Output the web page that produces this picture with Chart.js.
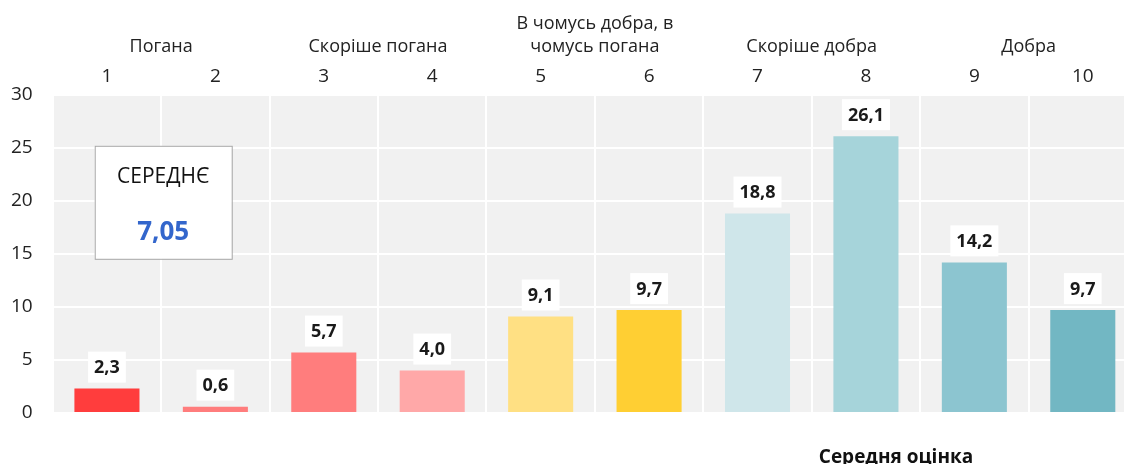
<!DOCTYPE html>
<html>
<head>
<meta charset="utf-8">
<script src="https://cdn.jsdelivr.net/npm/chart.js@4.4.1/dist/chart.umd.min.js"></script>
<style>
html,body{margin:0;padding:0;background:#fff;overflow:hidden;}
#wrap{position:relative;width:1150px;height:464px;}
</style>
</head>
<body>
<div id="wrap"><canvas id="c"></canvas></div>
<script>
const categories = ['1','2','3','4','5','6','7','8','9','10'];
const groupLabels = ['Погана','Скоріше погана',['В чомусь добра, в','чомусь погана'],'Скоріше добра','Добра'];
const values = [2.3, 0.6, 5.7, 4.0, 9.1, 9.7, 18.8, 26.1, 14.2, 9.7];
const barColors = ['#ff3d3d','#ff7d7d','#ff7d7d','#ffa8a8','#ffe083','#ffcf33','#cfe6ea','#a6d4da','#8cc5d0','#72b7c3'];
const yTicks = [0,5,10,15,20,25,30];
const meanLabel = 'СЕРЕДНЄ';
const meanValue = '7,05';
const bottomTitle = 'Середня оцінка';

const FONT = "'Open Sans', 'Noto Sans', sans-serif";
const fmt = v => v.toFixed(1).replace('.', ',');

const bgPlugin = {
  id: 'bg',
  beforeDraw(chart) {
    const {ctx, chartArea: a} = chart;
    ctx.save();
    ctx.fillStyle = '#f1f1f1';
    ctx.fillRect(a.left, a.top, a.right - a.left, a.bottom - a.top);
    ctx.restore();
  }
};

const labelPlugin = {
  id: 'labels',
  afterDatasetsDraw(chart) {
    const {ctx} = chart;
    const meta = chart.getDatasetMeta(0);
    ctx.save();
    ctx.font = "bold 18px " + FONT;
    ctx.textAlign = 'center';
    ctx.textBaseline = 'middle';
    meta.data.forEach((bar, i) => {
      const txt = fmt(values[i]);
      const w = ctx.measureText(txt).width + 12;
      const h = 31;
      const bottom = bar.y - 6;
      ctx.fillStyle = '#ffffff';
      ctx.fillRect(bar.x - w / 2, bottom - h, w, h);
      ctx.fillStyle = '#1a1a1a';
      ctx.fillText(txt, bar.x, bottom - h / 2 + 1);
    });
    // mean box
    const a = chart.chartArea;
    const bx = a.left + 42, by = a.top + 51, bw = 137, bh = 113;
    ctx.fillStyle = '#ffffff';
    ctx.fillRect(bx, by, bw, bh);
    ctx.strokeStyle = '#a8a8a8';
    ctx.lineWidth = 1;
    ctx.strokeRect(bx + 0.5, by + 0.5, bw, bh);
    ctx.fillStyle = '#111';
    ctx.font = "21px " + FONT;
    ctx.fillText(meanLabel, bx + bw / 2, by + 31);
    ctx.fillStyle = '#3366cc';
    ctx.font = "bold 26px " + FONT;
    ctx.fillText(meanValue, bx + bw / 2, by + 87);
    // bottom title
    ctx.fillStyle = '#111';
    ctx.font = "bold 19px " + FONT;
    ctx.textBaseline = 'alphabetic';
    ctx.fillText(bottomTitle, 896, 463);
    ctx.restore();
  }
};

new Chart(document.getElementById('c'), {
  type: 'bar',
  data: {
    labels: categories,
    datasets: [{
      data: values,
      backgroundColor: barColors,
      borderWidth: 0,
      categoryPercentage: 1,
      barPercentage: 0.6
    }]
  },
  options: {
    responsive: true,
    maintainAspectRatio: false,
    animation: false,
    layout: {padding: {left: -9, right: 13, top: 13, bottom: 51}},
    plugins: {legend: {display: false}, tooltip: {enabled: false}},
    scales: {
      x: {
        position: 'top',
        weight: 0,
        grid: {color: '#ffffff', lineWidth: 2, drawTicks: false, offset: true},
        border: {display: false},
        ticks: {color: '#222', font: {family: FONT, size: 19}, padding: 7, maxRotation: 0}
      },
      x2: {
        position: 'top',
        weight: 1,
        type: 'category',
        labels: groupLabels,
        offset: true,
        grid: {display: false, drawTicks: false},
        border: {display: false},
        ticks: {color: '#222', font: {family: FONT, size: 18, lineHeight: 1.25}, padding: 0, maxRotation: 0, autoSkip: false}
      },
      y: {
        min: 0, max: 30,
        afterBuildTicks(scale) { scale.ticks = yTicks.map(v => ({value: v})); },
        grid: {color: '#ffffff', lineWidth: 2, drawTicks: false},
        border: {display: false},
        ticks: {color: '#222', font: {family: FONT, size: 19}, padding: 20}
      }
    }
  },
  plugins: [bgPlugin, labelPlugin]
});
</script>
</body>
</html>
